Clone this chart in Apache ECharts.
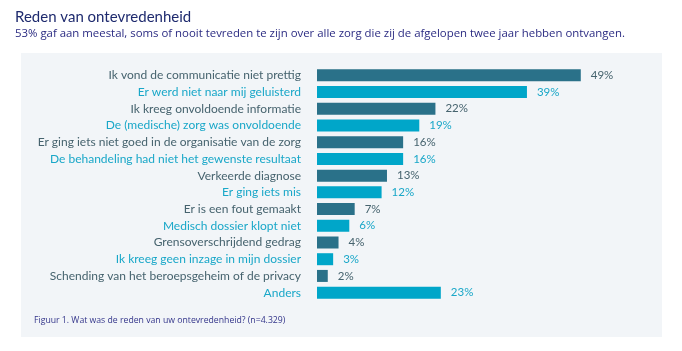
<!DOCTYPE html>
<html>
<head>
<meta charset="utf-8">
<script src="https://cdn.jsdelivr.net/npm/echarts@6/dist/echarts.min.js"></script>
<style>
  html, body { margin: 0; padding: 0; background: #fff; }
  #chart { width: 682px; height: 351px; }
</style>
</head>
<body>
<div id="chart"></div>
<script>
// reasons, top to bottom
const categories = [
  'Ik vond de communicatie niet prettig',
  'Er werd niet naar mij geluisterd',
  'Ik kreeg onvoldoende informatie',
  'De (medische) zorg was onvoldoende',
  'Er ging iets niet goed in de organisatie van de zorg',
  'De behandeling had niet het gewenste resultaat',
  'Verkeerde diagnose',
  'Er ging iets mis',
  'Er is een fout gemaakt',
  'Medisch dossier klopt niet',
  'Grensoverschrijdend gedrag',
  'Ik kreeg geen inzage in mijn dossier',
  'Schending van het beroepsgeheim of de privacy',
  'Anders'
];
const values = [49, 39, 22, 19, 16, 16, 13, 12, 7, 6, 4, 3, 2, 23];

const darkBar = '#2a7189';
const lightBar = '#00a6c9';
const darkText = '#46636e';
const lightText = '#19a7c8';

let chart = echarts.init(document.getElementById('chart'));

let option = {
  backgroundColor: '#fff',
  animation: false,
  title: {
    text: 'Reden van ontevredenheid',
    subtext: '53% gaf aan meestal, soms of nooit tevreden te zijn over alle zorg die zij de afgelopen twee jaar hebben ontvangen.',
    left: 10,
    top: 5,
    itemGap: 3,
    textStyle: { fontFamily: 'Lato', fontWeight: 'normal', fontSize: 15, color: '#1e2a6e' },
    subtextStyle: { fontFamily: 'Open Sans', fontSize: 11.4, color: '#2b2b82' }
  },
  graphic: [
    {
      type: 'rect', z: -10,
      shape: { x: 21, y: 53, width: 641, height: 284 },
      style: { fill: '#f2f5f8' }
    },
    {
      type: 'text', left: 34, top: 316,
      style: {
        text: 'Figuur 1. Wat was de reden van uw ontevredenheid? (n=4.329)',
        font: '8.7px "Open Sans"', fill: '#33358a'
      }
    }
  ],
  grid: { left: 317, top: 67, height: 234, width: 323 },
  xAxis: {
    type: 'value', min: 0, max: 60,
    show: false
  },
  yAxis: {
    type: 'category',
    inverse: true,
    data: categories,
    axisLine: { show: false },
    axisTick: { show: false },
    axisLabel: {
      margin: 16,
      fontFamily: 'Lato',
      fontSize: 12,
      color: (v, i) => (i % 2 === 0 ? darkText : lightText)
    }
  },
  series: [{
    type: 'bar',
    barWidth: 12,
    data: values.map((v, i) => ({
      value: v,
      itemStyle: { color: i % 2 === 0 ? darkBar : lightBar },
      label: { color: i % 2 === 0 ? darkText : lightText }
    })),
    label: {
      show: true,
      position: 'right',
      distance: 10,
      fontFamily: 'Lato',
      fontSize: 11.5,
      formatter: '{c}%'
    }
  }]
};

chart.setOption(option);
</script>
</body>
</html>
